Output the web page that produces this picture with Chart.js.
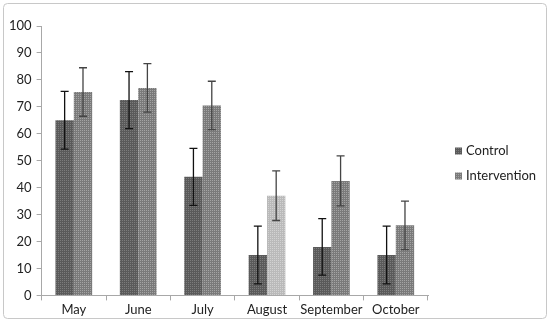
<!DOCTYPE html>
<html>
<head>
<meta charset="utf-8">
<script src="https://cdn.jsdelivr.net/npm/chart.js@4"></script>
<style>
  html, body { margin: 0; padding: 0; background: #fff; }
  #wrap { position: relative; width: 550px; height: 324px; }
</style>
</head>
<body>
<div id="wrap"><canvas id="chart" width="550" height="324"></canvas></div>
<script>
// --- Dados ---
const months = ['May', 'June', 'July', 'August', 'September', 'October'];
const controlValues = [65, 72.5, 44, 15, 18, 15];
const controlErrors = [10.7, 10.6, 10.6, 10.7, 10.5, 10.7];
const interventionValues = [75.5, 77, 70.5, 37, 42.5, 26];
const interventionErrors = [9, 9, 9, 9.2, 9.3, 9];
const yTicks = [0, 10, 20, 30, 40, 50, 60, 70, 80, 90, 100];
const legendNames = ['Control', 'Intervention'];

// Textura pontilhada parecida com a do Excel
function makePattern(c1, c2) {
    const p = document.createElement('canvas');
    p.width = 2; p.height = 2;
    const g = p.getContext('2d');
    g.fillStyle = c1; g.fillRect(0, 0, 2, 2);
    g.fillStyle = c2; g.fillRect(0, 0, 1, 1);
    return g.createPattern(p, 'repeat');
}

const ctx = document.getElementById('chart').getContext('2d');
const controlFill = makePattern('#5a5a5a', '#7c7c7c');
const interventionFill = makePattern('#7a7a7a', '#a4a4a4');
const augustFill = makePattern('#bababa', '#d2d2d2');
const FONT = { family: 'Lato', size: 13 };

// Plugin: barras de erro
const errorBars = {
    id: 'errorBars',
    afterDatasetsDraw(chart) {
        const g = chart.ctx;
        const y = chart.scales.y;
        chart.data.datasets.forEach((ds, i) => {
            const meta = chart.getDatasetMeta(i);
            meta.data.forEach((bar, j) => {
                const v = ds.data[j], e = ds.errors[j];
                const top = y.getPixelForValue(v + e);
                const bot = y.getPixelForValue(v - e);
                g.save();
                g.strokeStyle = ds.errorColor;
                g.lineWidth = 1.3;
                g.beginPath();
                g.moveTo(bar.x, top); g.lineTo(bar.x, bot);
                g.moveTo(bar.x - 4, top); g.lineTo(bar.x + 4, top);
                g.moveTo(bar.x - 4, bot); g.lineTo(bar.x + 4, bot);
                g.stroke();
                g.restore();
            });
        });
    }
};

// Plugin: legenda à direita, posicionada a partir da área do gráfico
const sideLegend = {
    id: 'sideLegend',
    afterDraw(chart) {
        const g = chart.ctx;
        const area = chart.chartArea;
        const fills = [controlFill, interventionFill];
        g.save();
        g.font = `${FONT.size}px ${FONT.family}`;
        g.textBaseline = 'middle';
        g.fillStyle = '#222';
        legendNames.forEach((name, i) => {
            const cy = area.top + 125 + i * 25;
            const x = area.right + 27;
            g.fillStyle = fills[i];
            g.fillRect(x, cy - 3.5, 7, 7);
            g.fillStyle = '#222';
            g.fillText(name, x + 11, cy);
        });
        g.restore();
    }
};

// Plugin: moldura arredondada
const frame = {
    id: 'frame',
    beforeDraw(chart) {
        const g = chart.ctx;
        g.save();
        g.fillStyle = '#fff';
        g.fillRect(0, 0, chart.width, chart.height);
        g.strokeStyle = '#c8c8c8';
        g.lineWidth = 1;
        g.beginPath();
        g.roundRect(3.5, 3.5, 543, 315, 4);
        g.stroke();
        g.restore();
    }
};

new Chart(ctx, {
    type: 'bar',
    data: {
        labels: months,
        datasets: [
            {
                label: legendNames[0], data: controlValues, errors: controlErrors,
                backgroundColor: controlFill, errorColor: '#111',
                categoryPercentage: 0.57, barPercentage: 1
            },
            {
                label: legendNames[1], data: interventionValues, errors: interventionErrors,
                backgroundColor: months.map((m, i) => i === 3 ? augustFill : interventionFill),
                errorColor: '#444',
                categoryPercentage: 0.57, barPercentage: 1
            }
        ]
    },
    options: {
        responsive: false,
        animation: false,
        layout: { padding: { top: 26, left: 4, right: 122, bottom: 4 } },
        plugins: {
            legend: { display: false },
            tooltip: { enabled: false }
        },
        scales: {
            x: {
                grid: { display: true, drawOnChartArea: false, offset: true, tickLength: 5, color: '#a8a8a8' },
                border: { color: '#a8a8a8' },
                ticks: { color: '#222', font: FONT, padding: 2, maxRotation: 0, autoSkip: false }
            },
            y: {
                min: 0, max: 100,
                afterBuildTicks(axis) { axis.ticks = yTicks.map(v => ({ value: v })); },
                grid: { display: true, drawOnChartArea: false, tickLength: 5, color: '#a8a8a8' },
                border: { color: '#a8a8a8' },
                ticks: { color: '#222', font: FONT, padding: 5 }
            }
        }
    },
    plugins: [frame, errorBars, sideLegend]
});
</script>
</body>
</html>
